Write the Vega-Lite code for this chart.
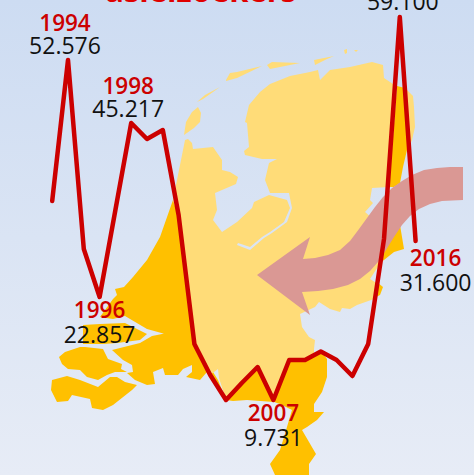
{"$schema":"https://vega.github.io/schema/vega-lite/v6.json","width":474,"height":475,"padding":0,"autosize":{"type":"none"},"config":{"view":{"stroke":null},"text":{"font":"Open Sans"}},
"datasets":{"series":[{"year":1993,"value":35.4},{"year":1994,"value":53.62,"reported":"52.576","side":"above"},{"year":1995,"value":29.2},{"year":1996,"value":23.0,"reported":"22.857","side":"below"},{"year":1997,"value":34.24},{"year":1998,"value":45.48,"reported":"45.217","side":"above"},{"year":1999,"value":43.41},{"year":2000,"value":44.57},{"year":2001,"value":33.59},{"year":2002,"value":16.93},{"year":2003,"value":12.92},{"year":2004,"value":9.69},{"year":2005,"value":11.89},{"year":2006,"value":13.95},{"year":2007,"value":9.69,"reported":"9.731","side":"below"},{"year":2008,"value":14.86},{"year":2009,"value":14.86},{"year":2010,"value":15.96},{"year":2011,"value":14.86},{"year":2012,"value":12.79},{"year":2013,"value":16.93},{"year":2014,"value":30.49},{"year":2015,"value":59.17,"reported":"59.100","side":"peak"},{"year":2016,"value":30.23,"reported":"31.600","side":"right"}],
"light":[
{"type":"Feature","geometry":{"type":"Polygon","coordinates":[[[185,140],[188,139],[192,143],[193,149],[213,147],[222,160],[222,170],[230,172],[238,177],[236,184],[222,190],[215,193],[217,210],[213,220],[222,232],[237,222],[252,208],[254,202],[269,195],[287,200],[290,208],[284,222],[270,232],[262,237],[250,247],[238,243],[237,245],[250,250],[264,238],[272,233],[287,222],[292,208],[289,193],[270,193],[265,180],[269,163],[277,159],[262,159],[245,155],[244,151],[249,147],[247,123],[245,122],[249,105],[260,92],[270,84],[290,76],[310,72],[318,70],[320,80],[325,75],[330,70],[350,67],[372,62],[383,65],[384,78],[393,84],[395,86],[389,187],[372,188],[370,200],[373,203],[365,212],[380,225],[385,239],[381,262],[370,279],[378,284],[374,299],[357,305],[350,309],[342,308],[340,312],[330,309],[319,302],[315,307],[300,314],[302,327],[309,337],[315,340],[314,349],[314,355],[305,360],[290,360],[274,400],[258,368],[242,384],[226,400],[219,378],[218,369],[214,372],[210,375],[194,344],[178,215],[173,200],[177,180],[183,150],[185,140]]]}},
{"type":"Feature","geometry":{"type":"Polygon","coordinates":[[[405,88],[413,96],[414,107],[415,127],[412,140],[408,150],[409,150],[405,97],[405,88]]]}},
{"type":"Feature","geometry":{"type":"Polygon","coordinates":[[[184,135],[186,122],[192,112],[198,107],[201,113],[200,122],[194,128],[184,135]]]}},
{"type":"Feature","geometry":{"type":"Polygon","coordinates":[[[197,102],[205,95],[220,87],[213,92],[203,99],[197,102]]]}},
{"type":"Feature","geometry":{"type":"Polygon","coordinates":[[[226,80],[230,73],[237,72],[262,66],[237,78],[226,81],[226,80]]]}},
{"type":"Feature","geometry":{"type":"Polygon","coordinates":[[[267,65],[272,62],[300,63],[280,67],[270,69],[267,65]]]}},
{"type":"Feature","geometry":{"type":"Polygon","coordinates":[[[314,60],[334,56],[327,59],[315,65],[314,60]]]}},
{"type":"Feature","geometry":{"type":"Polygon","coordinates":[[[344,50],[347,49],[347,53],[345,54],[344,50]]]}},
{"type":"Feature","geometry":{"type":"Polygon","coordinates":[[[354,50],[358,50],[356,52],[354,50]]]}}],
"dark":[
{"type":"Feature","geometry":{"type":"Polygon","coordinates":[[[173,200],[160,237],[147,260],[133,277],[124,287],[115,289],[117,295],[113,299],[105,310],[100,317],[113,319],[125,316],[147,329],[165,334],[172,332],[152,336],[140,343],[112,350],[123,360],[132,365],[133,372],[127,373],[135,380],[147,385],[155,384],[153,372],[163,368],[165,375],[178,375],[183,369],[192,365],[192,372],[186,377],[200,380],[207,372],[213,372],[218,380],[226,400],[210,375],[194,344],[178,215],[173,200]]]}},
{"type":"Feature","geometry":{"type":"Polygon","coordinates":[[[226,400],[233,401],[247,400],[274,402],[280,404],[292,410],[284,437],[280,450],[270,464],[275,475],[309,475],[309,464],[316,454],[309,442],[302,430],[307,427],[317,420],[324,412],[314,412],[314,404],[322,392],[327,377],[327,359],[321,351],[305,360],[290,360],[274,400],[258,368],[242,384],[226,400]]]}},
{"type":"Feature","geometry":{"type":"Polygon","coordinates":[[[83,325],[100,324],[125,323],[147,334],[140,340],[117,343],[103,344],[83,344],[83,325]]]}},
{"type":"Feature","geometry":{"type":"Polygon","coordinates":[[[59,357],[65,352],[80,347],[85,347],[103,349],[108,359],[122,364],[121,369],[127,372],[115,372],[107,375],[98,380],[87,377],[80,370],[68,369],[62,364],[59,357]]]}},
{"type":"Feature","geometry":{"type":"Polygon","coordinates":[[[52,380],[67,376],[80,380],[98,387],[110,377],[117,377],[125,382],[137,385],[132,390],[113,405],[103,410],[92,408],[90,399],[72,395],[68,401],[57,402],[51,390],[52,380]]]}},
{"type":"Feature","geometry":{"type":"Polygon","coordinates":[[[397,86],[405,88],[409,150],[407,150],[403,167],[400,183],[394,187],[389,187],[397,86]]]}},
{"type":"Feature","geometry":{"type":"Polygon","coordinates":[[[386,225],[400,225],[402,237],[404,249],[394,252],[384,260],[381,262],[386,225]]]}},
{"type":"Feature","geometry":{"type":"Polygon","coordinates":[[[378,283],[383,287],[380,295],[374,298],[378,283]]]}}],
"arrow":[{"type":"Feature","geometry":{"type":"Polygon","coordinates":[[[463,167],[450,167],[437,168],[424,170],[412,175],[402,181],[392,188],[383,197],[375,207],[367,218],[359,229],[350,241],[340,250],[328,255],[315,258],[303,259],[310,237],[257,275],[310,315],[302,292],[318,291],[333,289],[348,285],[360,279],[370,271],[378,262],[386,250],[394,237],[402,225],[410,216],[419,209],[430,204],[442,201],[463,200],[463,167]]]}}]},
"layer":[
{"data":{"values":[{"x0":1989.696,"x1":2019.696,"y0":0,"y1":61.37}]},"mark":{"type":"rect","fill":{"gradient":"linear","x1":0,"y1":0,"x2":0,"y2":1,"stops":[{"offset":0,"color":"#cddcf2"},{"offset":1,"color":"#e7ecf6"}]}},"encoding":{"x":{"field":"x0","type":"quantitative","scale":{"domain":[1989.696,2019.696],"nice":false,"zero":false},"axis":null},"x2":{"field":"x1"},"y":{"field":"y0","type":"quantitative","scale":{"domain":[0,61.37],"nice":false,"zero":false},"axis":null},"y2":{"field":"y1"}}},
{"data":{"name":"dark"},"mark":{"type":"geoshape","fill":"#ffc000","stroke":null},"projection":{"type":"identity","scale":1,"translate":[0,0]}},
{"data":{"name":"light"},"mark":{"type":"geoshape","fill":"#ffdc78","stroke":null},"projection":{"type":"identity","scale":1,"translate":[0,0]}},
{"data":{"name":"arrow"},"mark":{"type":"geoshape","fill":"#da9894","stroke":null},"projection":{"type":"identity","scale":1,"translate":[0,0]}},
{"data":{"name":"series"},"mark":{"type":"line","color":"#cc0000","strokeWidth":4.5,"strokeJoin":"round","strokeCap":"round"},"encoding":{"x":{"field":"year","type":"quantitative"},"y":{"field":"value","type":"quantitative"}}},
{"data":{"values":[{"year":2002.4,"value":61.05,"headline":"asielzoekers"}]},"mark":{"type":"text","font":"Open Sans","fontWeight":"bold","fontSize":31,"color":"#e00000","baseline":"alphabetic"},"encoding":{"x":{"field":"year","type":"quantitative"},"y":{"field":"value","type":"quantitative"},"text":{"field":"headline"}}},
{"data":{"name":"series"},"transform":[{"filter":"datum.side==='above'"}],"mark":{"type":"text","fontSize":22.5,"color":"#cc0000","fontWeight":600,"baseline":"alphabetic","dy":-29,"dx":-3},"encoding":{"x":{"field":"year","type":"quantitative"},"y":{"field":"value","type":"quantitative"},"text":{"field":"year","type":"nominal"}}},
{"data":{"name":"series"},"transform":[{"filter":"datum.side==='above'"}],"mark":{"type":"text","fontSize":23,"color":"#111111","baseline":"alphabetic","dy":-6,"dx":-3},"encoding":{"x":{"field":"year","type":"quantitative"},"y":{"field":"value","type":"quantitative"},"text":{"field":"reported","type":"nominal"}}},
{"data":{"name":"series"},"transform":[{"filter":"datum.side==='peak'"}],"mark":{"type":"text","fontSize":23,"color":"#111111","baseline":"alphabetic","dy":-7,"dx":3},"encoding":{"x":{"field":"year","type":"quantitative"},"y":{"field":"value","type":"quantitative"},"text":{"field":"reported","type":"nominal"}}},
{"data":{"name":"series"},"transform":[{"filter":"datum.side==='below'"}],"mark":{"type":"text","fontSize":22.5,"color":"#cc0000","fontWeight":600,"baseline":"alphabetic","dy":21},"encoding":{"x":{"field":"year","type":"quantitative"},"y":{"field":"value","type":"quantitative"},"text":{"field":"year","type":"nominal"}}},
{"data":{"name":"series"},"transform":[{"filter":"datum.side==='below'"}],"mark":{"type":"text","fontSize":23,"color":"#111111","baseline":"alphabetic","dy":46},"encoding":{"x":{"field":"year","type":"quantitative"},"y":{"field":"value","type":"quantitative"},"text":{"field":"reported","type":"nominal"}}},
{"data":{"name":"series"},"transform":[{"filter":"datum.side==='right'"}],"mark":{"type":"text","fontSize":22.5,"color":"#cc0000","fontWeight":600,"baseline":"alphabetic","dy":25,"dx":20},"encoding":{"x":{"field":"year","type":"quantitative"},"y":{"field":"value","type":"quantitative"},"text":{"field":"year","type":"nominal"}}},
{"data":{"name":"series"},"transform":[{"filter":"datum.side==='right'"}],"mark":{"type":"text","fontSize":23,"color":"#111111","baseline":"alphabetic","dy":50,"dx":20},"encoding":{"x":{"field":"year","type":"quantitative"},"y":{"field":"value","type":"quantitative"},"text":{"field":"reported","type":"nominal"}}}
]}
